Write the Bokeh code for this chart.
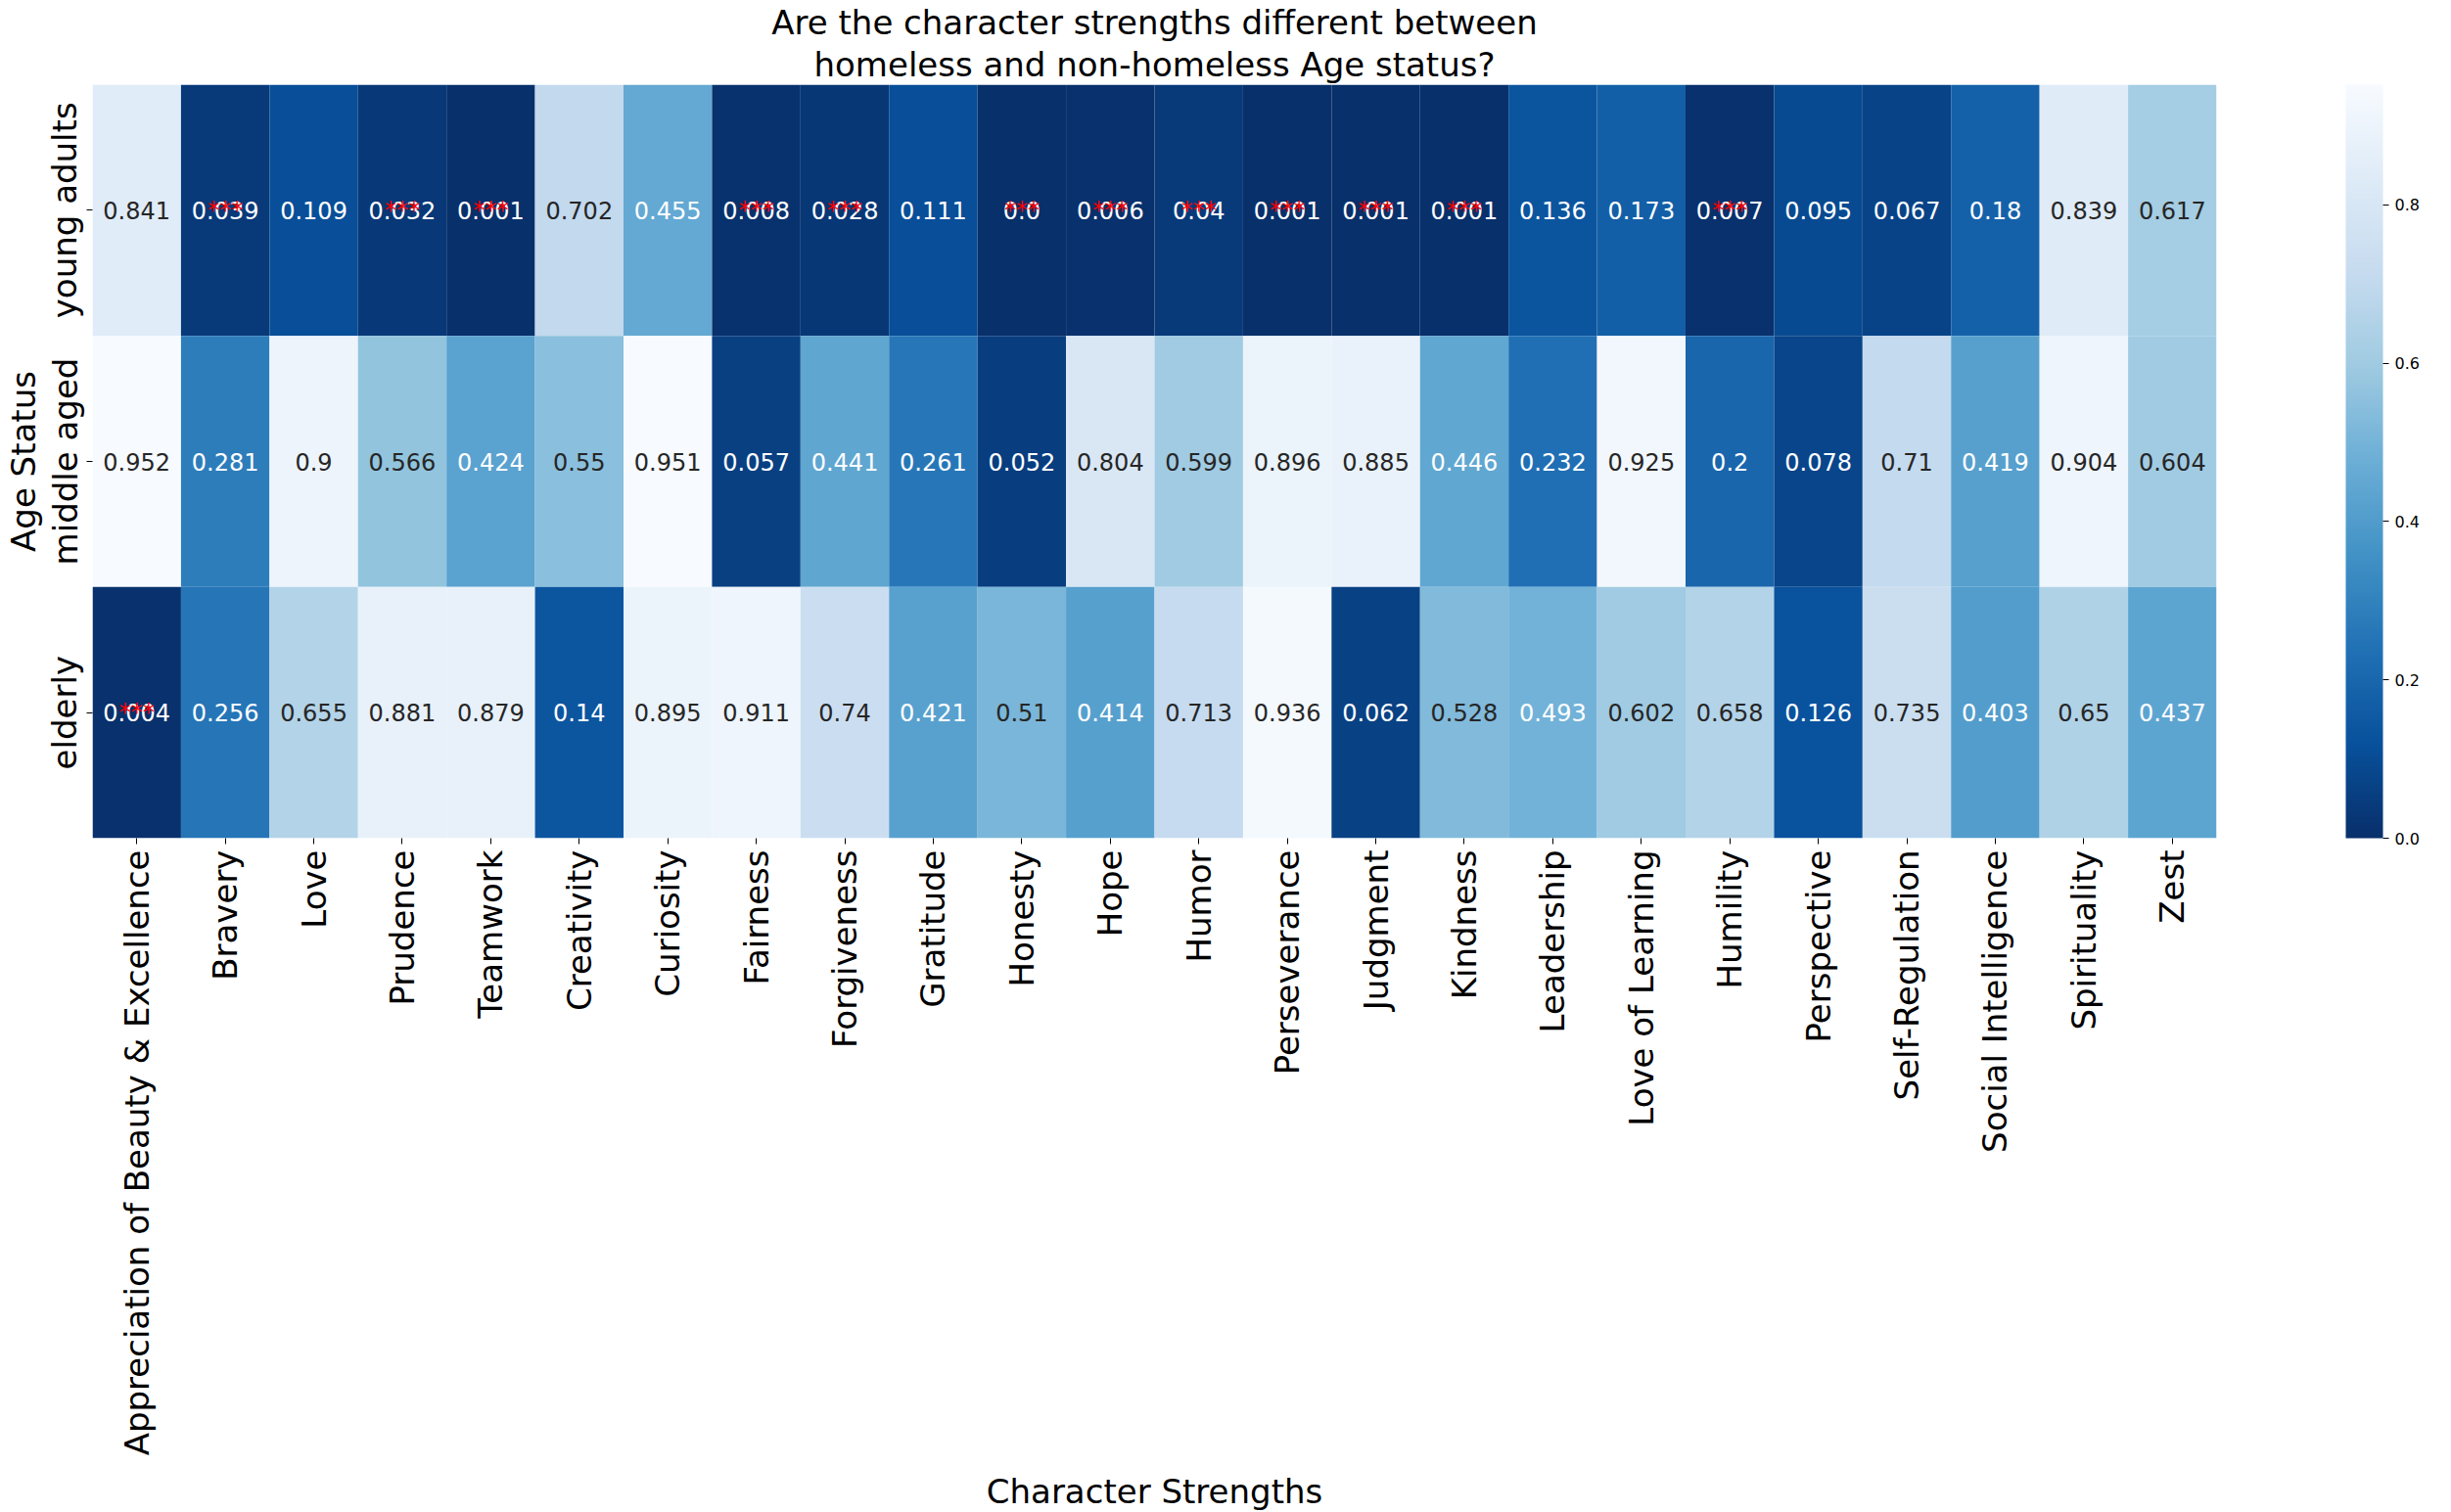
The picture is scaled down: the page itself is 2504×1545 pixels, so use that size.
import math
from bokeh.plotting import figure
from bokeh.models import (ColumnDataSource, LinearColorMapper, ColorBar, FixedTicker,
                          PrintfTickFormatter, Label, FactorRange, Title)
from bokeh.palettes import Blues256
from bokeh.core.properties import value
from bokeh.embed import file_html
from bokeh.resources import INLINE

# data
strengths = ["Appreciation of Beauty & Excellence", "Bravery", "Love", "Prudence", "Teamwork",
             "Creativity", "Curiosity", "Fairness", "Forgiveness", "Gratitude", "Honesty", "Hope",
             "Humor", "Perseverance", "Judgment", "Kindness", "Leadership", "Love of Learning",
             "Humility", "Perspective", "Self-Regulation", "Social Intelligence", "Spirituality", "Zest"]
age_groups = ["young adults", "middle aged", "elderly"]

p_young = [0.841, 0.039, 0.109, 0.032, 0.001, 0.702, 0.455, 0.008, 0.028, 0.111, 0.0, 0.006,
           0.04, 0.001, 0.001, 0.001, 0.136, 0.173, 0.007, 0.095, 0.067, 0.18, 0.839, 0.617]
p_middle = [0.952, 0.281, 0.9, 0.566, 0.424, 0.55, 0.951, 0.057, 0.441, 0.261, 0.052, 0.804,
            0.599, 0.896, 0.885, 0.446, 0.232, 0.925, 0.2, 0.078, 0.71, 0.419, 0.904, 0.604]
p_elderly = [0.004, 0.256, 0.655, 0.881, 0.879, 0.14, 0.895, 0.911, 0.74, 0.421, 0.51, 0.414,
             0.713, 0.936, 0.062, 0.528, 0.493, 0.602, 0.658, 0.126, 0.735, 0.403, 0.65, 0.437]
cbar_ticks = [0.0, 0.2, 0.4, 0.6, 0.8]
title_lines = ["Are the character strengths different between",
               "homeless and non-homeless Age status?"]

rows = [p_young, p_middle, p_elderly]
all_vals = p_young + p_middle + p_elderly
low, high = min(all_vals), max(all_vals)
FONT = "DejaVu Sans"


def luminance(hexcol):
    out = []
    for i in (1, 3, 5):
        c = int(hexcol[i:i + 2], 16) / 255
        out.append(c / 12.92 if c <= 0.03928 else ((c + 0.055) / 1.055) ** 2.4)
    return 0.2126 * out[0] + 0.7152 * out[1] + 0.0722 * out[2]


xs, ys, vals, labels, tcols, stars = [], [], [], [], [], []
for age, row in zip(age_groups, rows):
    for s, v in zip(strengths, row):
        xs.append(s)
        ys.append(age)
        vals.append(v)
        labels.append(str(v))
        idx = min(255, int((v - low) / (high - low) * 256))
        tcols.append("#262626" if luminance(Blues256[idx]) > 0.408 else "white")
        stars.append("***" if v < 0.05 else "")

src = ColumnDataSource(data=dict(x=xs, y=ys, v=vals, lab=labels, tc=tcols, st=stars))
mapper = LinearColorMapper(palette=Blues256, low=low, high=high)

p = figure(x_range=FactorRange(*strengths), y_range=FactorRange(*reversed(age_groups)),
           frame_width=2170, frame_height=770, title=None,
           min_border_left=85, min_border_top=76, min_border_bottom=683, min_border_right=232,
           output_backend="svg", toolbar_location=None)

p.rect(x="x", y="y", width=1, height=1, source=src,
       fill_color={"field": "v", "transform": mapper}, line_color=None)
p.text(x="x", y="y", text="lab", source=src, text_color="tc", text_font=value(FONT),
       text_font_size="24px", text_align="center", text_baseline="middle")
p.text(x="x", y="y", text="st", source=src, text_color="red", text_font=value(FONT),
       text_font_size="24px", text_align="center", text_baseline="middle")

# two title lines, each centred; first added sits next to the frame
for line, gap in zip(reversed(title_lines), (2, 0)):
    p.add_layout(Title(text=line, align="center", text_font=FONT, text_font_size="34px",
                       text_font_style="normal", text_color="black", standoff=gap,
                       text_line_height=1.0), "above")

for ax in (p.xaxis[0], p.yaxis[0]):
    ax.axis_line_color = None
    ax.major_tick_in = 0
    ax.major_tick_out = 6
    ax.major_tick_line_color = "black"
    ax.major_label_standoff = 6
    ax.major_label_text_font = FONT
    ax.major_label_text_font_size = "34px"
    ax.major_label_text_color = "black"
    ax.axis_label_text_font = FONT
    ax.axis_label_text_font_size = "34px"
    ax.axis_label_text_font_style = "normal"
    ax.axis_label_text_color = "black"

p.xaxis.major_label_orientation = math.pi / 2
p.yaxis.major_label_orientation = "vertical"
p.xaxis.axis_label = "Character Strengths"
p.xaxis.axis_label_standoff = 14
p.yaxis.axis_label = "Age Status"
p.yaxis.axis_label_standoff = 0
p.yaxis.major_label_standoff = 2

p.xgrid.grid_line_color = None
p.ygrid.grid_line_color = None
p.outline_line_color = None

cb = ColorBar(color_mapper=mapper, width=38, height=770, padding=0, margin=0,
              location=(132, 0),
              ticker=FixedTicker(ticks=cbar_ticks), formatter=PrintfTickFormatter(format="%.1f"),
              major_tick_in=0, major_tick_out=6, major_tick_line_color="black",
              label_standoff=6, major_label_text_font=FONT, major_label_text_font_size="16px",
              major_label_text_color="black", bar_line_color=None)
p.add_layout(cb, "right")

p.add_layout(Label(x=2384, y=385, x_units="screen", y_units="screen", text="p-value",
                   angle=math.pi / 2, text_align="center", text_baseline="middle",
                   text_font=FONT, text_font_size="16px", text_color="black"))

open("out.html", "w").write(file_html(p, INLINE))
